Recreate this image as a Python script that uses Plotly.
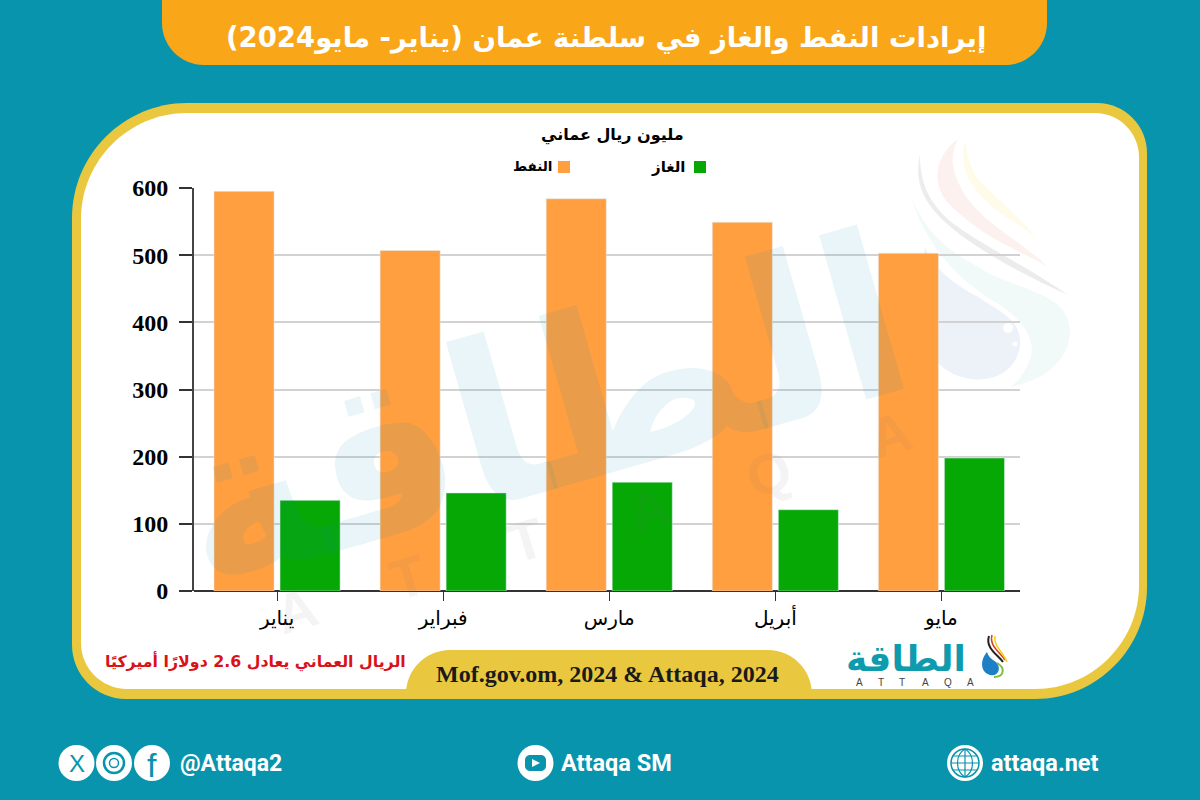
"""
Attaqa infographic: Oman oil and gas revenues, Jan-May 2024.
"""
import re
import plotly.graph_objects as go

W, H = 1200, 800

months = ["يناير", "فبراير", "مارس", "أبريل", "مايو"]
oil_values = [595, 507, 584, 549, 503]
gas_values = [135, 146, 162, 121, 198]
y_ticks = [0, 100, 200, 300, 400, 500, 600]

oil_name = "النفط"
gas_name = "الغاز"
title_text = "إيرادات النفط والغاز في سلطنة عمان (يناير- مايو2024)"
unit_text = "مليون ريال عماني"
note_text = "الريال العماني يعادل 2.6 دولارًا أميركيًا"
source_text = "Mof.gov.om, 2024 & Attaqa, 2024"
logo_text = "الطاقة"
logo_letters = ["A", "T", "T", "A", "Q", "A"]

TEAL = "#0794AC"
BANNER = "#F9A719"
GOLD = "#E9C83F"
OIL = "#FF9F40"
GAS = "#05A805"
AR_FONT = "DejaVu Sans"
SERIF = "Liberation Serif"


def px_path(cmd):
    """SVG path written in pixels -> paper fractions."""
    tokens = re.findall(r"[MLCQZ]|-?\d+\.?\d*", cmd)
    out, is_x = [], True
    for t in tokens:
        if t in "MLCQZ":
            out.append(t)
        else:
            v = float(t)
            out.append(f"{v / W:.5f}" if is_x else f"{1 - v / H:.5f}")
            is_x = not is_x
    return " ".join(out)


def round_box(x0, y0, x1, y1, tl=0, tr=0, br=0, bl=0):
    k = 0.45
    return (
        f"M {x0 + tl} {y0} L {x1 - tr} {y0} "
        f"C {x1 - tr * k} {y0} {x1} {y0 + tr * k} {x1} {y0 + tr} "
        f"L {x1} {y1 - br} "
        f"C {x1} {y1 - br * k} {x1 - br * k} {y1} {x1 - br} {y1} "
        f"L {x0 + bl} {y1} "
        f"C {x0 + bl * k} {y1} {x0} {y1 - bl * k} {x0} {y1 - bl} "
        f"L {x0} {y0 + tl} "
        f"C {x0} {y0 + tl * k} {x0 + tl * k} {y0} {x0 + tl} {y0} Z"
    )


def shape_path(cmd, fill=None, line=None, width=0, layer="below"):
    return dict(
        type="path", xref="paper", yref="paper", path=px_path(cmd), layer=layer,
        fillcolor=fill or "rgba(0,0,0,0)",
        line=dict(color=line or "rgba(0,0,0,0)", width=width),
    )


def circle(cx, cy, r, fill=None, line=None, width=0, layer="above"):
    return dict(
        type="circle", xref="paper", yref="paper", layer=layer,
        x0=(cx - r) / W, x1=(cx + r) / W,
        y0=1 - (cy + r) / H, y1=1 - (cy - r) / H,
        fillcolor=fill or "rgba(0,0,0,0)",
        line=dict(color=line or "rgba(0,0,0,0)", width=width),
    )


def label(x, y, text, size, color="#000", family=AR_FONT, angle=0, bold=True):
    return dict(
        xref="paper", yref="paper", x=x / W, y=1 - y / H, showarrow=False,
        text=f"<b>{text}</b>" if bold else text, textangle=angle,
        xanchor="center", yanchor="middle",
        font=dict(family=family, size=size, color=color),
    )


shapes = [
    # banner and panel
    shape_path(round_box(162, -2, 1047, 65, 0, 0, 42, 42), fill=BANNER),
    shape_path(round_box(72, 103, 1147, 699, 115, 50, 112, 54), fill=GOLD),
    shape_path(round_box(81, 113, 1139, 689, 106, 44, 104, 46), fill="#fff"),
    shape_path(round_box(406, 650, 812, 690, 44, 44, 0, 0), fill=GOLD),
    # faint drop behind the plot
    shape_path("M 920 155 C 912 190 930 215 975 245 C 1010 268 1040 282 1068 295 "
               "C 1030 268 990 250 955 225 C 930 205 920 185 920 155 Z",
               fill="rgba(120,120,120,0.14)"),
    shape_path("M 958 139 C 935 155 930 185 950 205 C 985 240 1020 250 1048 267 "
               "C 1020 240 985 225 965 195 C 950 170 950 155 958 139 Z",
               fill="rgba(240,150,130,0.13)"),
    shape_path("M 965 140 C 960 165 965 180 985 200 C 1005 220 1025 225 1037 240 "
               "C 1020 215 990 195 975 175 C 968 160 966 150 965 140 Z",
               fill="rgba(250,230,100,0.14)"),
    shape_path("M 1010 387 C 1045 380 1070 360 1070 330 C 1068 290 1010 290 975 265 "
               "C 945 250 920 225 910 192 C 925 250 965 285 1000 305 "
               "C 1030 325 1035 345 1030 360 C 1025 372 1018 382 1010 387 Z",
               fill="rgba(170,220,220,0.16)"),
    shape_path("M 925 247 C 915 290 915 340 940 365 C 965 388 1015 385 1020 345 "
               "C 1022 320 1000 312 980 298 C 955 285 935 270 925 247 Z",
               fill="rgba(130,170,210,0.15)"),
    circle(1008, 328, 5, fill="#fff", layer="below"),
    circle(1015, 344, 2.5, fill="#fff", layer="below"),
    # legend swatches
    shape_path(round_box(558, 161, 570, 173), fill=OIL),
    shape_path(round_box(694, 161, 706, 173), fill=GAS),
    # small logo drop
    shape_path("M 987 652 C 980 660 980 672 990 675 C 998 677 1002 668 996 662 "
               "C 991 659 988 656 987 652 Z", fill="#1F7FC4", layer="above"),
    shape_path("M 989 636 C 985 648 998 655 1003 662", line="#222", width=2, layer="above"),
    shape_path("M 992 635 C 989 646 1000 652 1005 660", line="#D8431F", width=1.6, layer="above"),
    shape_path("M 995 636 C 993 645 1003 652 1007 662", line="#F2D21B", width=1.6, layer="above"),
    shape_path("M 997 663 C 1006 668 1004 677 994 677", line="#7FBF3F", width=2, layer="above"),
    # footer icons
    circle(76.5, 763, 18, fill="#fff"),
    circle(114, 763, 18, fill="#fff"),
    circle(152, 763, 18, fill="#fff"),
    circle(114, 763, 10, line=TEAL, width=2.5),
    circle(114, 763, 4.5, line=TEAL, width=1.5),
    circle(535.5, 763, 18, fill="#fff"),
    shape_path(round_box(525, 755, 546, 771, 5, 5, 5, 5), fill=TEAL, layer="above"),
    shape_path("M 532 759 L 540 763 L 532 767 Z", fill="#fff", layer="above"),
    circle(965, 763, 18, fill="#fff"),
    circle(965, 763, 14, line=TEAL, width=1.5),
    shape_path("M 965 749 C 955 755 955 771 965 777 C 975 771 975 755 965 749 Z",
               line=TEAL, width=1.2, layer="above"),
    shape_path("M 951 763 L 979 763 M 953 756 L 977 756 M 953 770 L 977 770 M 965 749 L 965 777",
               line=TEAL, width=1.2, layer="above"),
]

annotations = [
    # watermark, sits over the bars
    label(540, 412, logo_text, 225, color="rgba(7,148,172,0.09)", angle=-16),
    # texts
    label(606, 38, title_text, 27.5, color="#fff"),
    label(612, 135, unit_text, 16),
    label(532, 166, oil_name, 13.5),
    label(668, 167, gas_name, 15),
    label(255, 661, note_text, 15.8, color="#D9121A"),
    label(607, 674, source_text, 24, color="#1a1a1a", family=SERIF),
    label(906, 658, logo_text, 36, color="#0F9BAE"),
    # footer
    label(76.5, 763, "X", 24, color=TEAL, family="Liberation Sans", bold=False),
    label(152, 765, "f", 34, color=TEAL, family="Liberation Sans", bold=False),
    label(230.5, 763, "@Attaqa2", 23, color="#fff", family="Roboto"),
    label(616.5, 763, "Attaqa SM", 23.5, color="#fff", family="Roboto"),
    label(1044.5, 763, "attaqa.net", 23.5, color="#fff", family="Roboto"),
]

# spaced ATTAQA letters: the watermark row and the small one under the logo
big_letter_x = [296, 408, 526, 649, 769, 890]
big_letter_y = [610, 577, 540, 510, 473, 435]
small_letter_x = [859, 881, 902, 925, 948, 970]
for ch, bx, by, sx in zip(logo_letters, big_letter_x, big_letter_y, small_letter_x):
    annotations.append(label(bx, by, ch, 56, color="rgba(110,110,110,0.08)",
                             family="Liberation Sans", angle=-17))
    annotations.append(label(sx, 682, ch, 10, color="#444", family="Liberation Sans", bold=False))

fig = go.Figure()
fig.add_trace(go.Bar(x=months, y=oil_values, name=oil_name, marker=dict(color=OIL)))
fig.add_trace(go.Bar(x=months, y=gas_values, name=gas_name, marker=dict(color=GAS)))

fig.update_layout(
    width=W, height=H,
    margin=dict(l=0, r=0, t=0, b=0),
    paper_bgcolor=TEAL,
    plot_bgcolor="rgba(0,0,0,0)",
    barmode="group", bargap=0.205, bargroupgap=0.09,
    showlegend=False,
    shapes=shapes,
    annotations=annotations,
    xaxis=dict(
        domain=[194 / W, 1020 / W],
        type="category", categoryorder="array", categoryarray=months,
        range=[-0.5, 4.473],
        automargin=False,
        showgrid=False, zeroline=False,
        ticks="outside", ticklen=9, tickcolor="#333", tickwidth=1,
        showline=False,
        tickfont=dict(family=AR_FONT, size=20, color="#000"),
    ),
    yaxis=dict(
        domain=[1 - 591 / H, 1 - 188 / H],
        range=[0, 600],
        tickvals=y_ticks,
        automargin=False,
        gridcolor="#d2d2d2", gridwidth=1.5,
        zeroline=True, zerolinecolor="#333", zerolinewidth=1.5,
        showline=True, linecolor="#444", linewidth=2,
        ticks="outside", ticklen=13, tickcolor="#333", tickwidth=1.5,
        ticklabelstandoff=6,
        tickfont=dict(family=SERIF, size=24, color="#000", weight="bold"),
    ),
)

fig.write_html(
    "out.html",
    config=dict(displayModeBar=False),
    post_script="document.body.style.margin='0';document.body.style.overflow='hidden';",
)
